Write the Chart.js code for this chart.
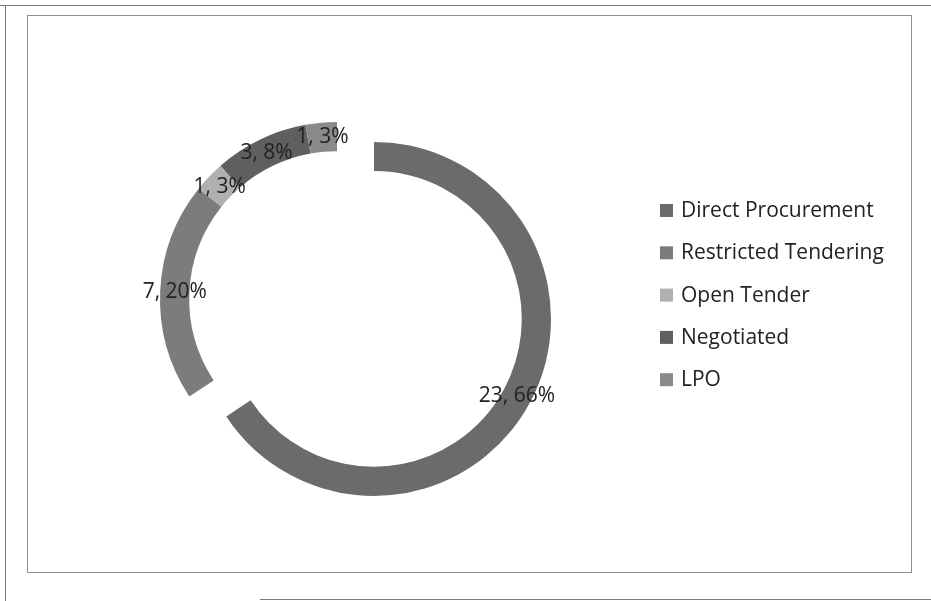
<!DOCTYPE html>
<html>
<head>
<meta charset="utf-8">
<title>Procurement methods</title>
<script src="https://cdn.jsdelivr.net/npm/chart.js@4/dist/chart.umd.min.js"></script>
<style>
  html, body { margin: 0; padding: 0; background: #fff; }
  #wrap { position: relative; width: 931px; height: 601px; overflow: hidden; }
  .rule { position: absolute; background: #7a7a7a; }
  #frame { position: absolute; left: 27px; top: 15px; width: 885px; height: 558px; border: 1px solid #8e8e8e; box-sizing: border-box; }
  canvas { position: absolute; left: 0; top: 0; }
</style>
</head>
<body>
<div id="wrap">
  <div class="rule" style="left:0;top:5px;width:931px;height:1px"></div>
  <div class="rule" style="left:5px;top:5px;width:1px;height:596px"></div>
  <div class="rule" style="left:260px;top:599px;width:671px;height:1px"></div>
  <div id="frame"></div>
  <canvas id="procChart" width="931" height="601"></canvas>
</div>
<script>
// procurement method counts and their stated shares
const methods = ['Direct Procurement', 'Restricted Tendering', 'Open Tender', 'Negotiated', 'LPO'];
const counts = [23, 7, 1, 3, 1];
const shares = [66, 20, 3, 8, 3];

const sliceColors = ['#6b6b6b', '#7c7c7c', '#b0b0b0', '#5f5f5f', '#8a8a8a'];
const textFont = '21px "Open Sans", sans-serif';
const textColor = '#222';

// pull a slice out along its mid angle without resizing it
const explode = {
  id: 'explode',
  afterUpdate(chart, args, opts) {
    chart.getDatasetMeta(0).data.forEach((arc, i) => {
      const d = opts.by[i] || 0;
      if (!d) return;
      const mid = (arc.startAngle + arc.endAngle) / 2;
      arc.x += Math.cos(mid) * d;
      arc.y += Math.sin(mid) * d;
    });
  }
};

// "count, share%" in the middle of each ring segment
const sliceLabels = {
  id: 'sliceLabels',
  afterDatasetsDraw(chart) {
    const ctx = chart.ctx;
    const ds = chart.data.datasets[0];
    ctx.save();
    ctx.font = textFont;
    ctx.fillStyle = textColor;
    ctx.textAlign = 'center';
    ctx.textBaseline = 'middle';
    chart.getDatasetMeta(0).data.forEach((arc, i) => {
      const mid = (arc.startAngle + arc.endAngle) / 2;
      const r = (arc.innerRadius + arc.outerRadius) / 2;
      ctx.fillText(ds.data[i] + ', ' + shares[i] + '%', arc.x + Math.cos(mid) * r, arc.y + Math.sin(mid) * r);
    });
    ctx.restore();
  }
};

// legend column on the right
const sideLegend = {
  id: 'sideLegend',
  afterDraw(chart, args, opts) {
    const ctx = chart.ctx;
    const ds = chart.data.datasets[0];
    ctx.save();
    ctx.font = textFont;
    ctx.textBaseline = 'middle';
    chart.data.labels.forEach((name, i) => {
      const y = opts.top + i * opts.step;
      ctx.fillStyle = ds.backgroundColor[i];
      ctx.fillRect(opts.left, y - 6, 13, 13);
      ctx.fillStyle = textColor;
      ctx.fillText(name, opts.left + 21, y + 1);
    });
    ctx.restore();
  }
};

new Chart(document.getElementById('procChart').getContext('2d'), {
  type: 'doughnut',
  data: {
    labels: methods,
    datasets: [{
      data: counts,
      backgroundColor: sliceColors,
      borderWidth: 0
    }]
  },
  options: {
    responsive: false,
    animation: false,
    devicePixelRatio: 1,
    radius: 177,
    cutout: '83.5%',
    layout: { padding: { left: 0, right: 257, top: 0, bottom: 3 } },
    plugins: {
      legend: { display: false },
      tooltip: { enabled: false },
      explode: { by: [42, 0, 0, 0, 0] },
      sideLegend: { left: 660, top: 210, step: 42.3 }
    }
  },
  plugins: [explode, sliceLabels, sideLegend]
});
</script>
</body>
</html>
